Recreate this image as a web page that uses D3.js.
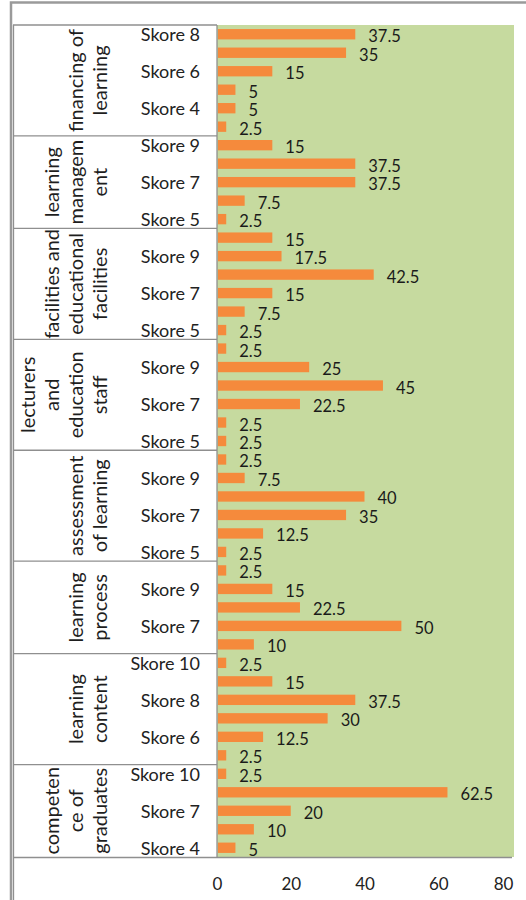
<!DOCTYPE html>
<html><head><meta charset="utf-8">
<script src="https://cdn.jsdelivr.net/npm/d3@7/dist/d3.min.js"></script>
<style>
html,body{margin:0;padding:0;background:#fff;}
svg{display:block;font-family:Lato,"Open Sans",sans-serif;}
</style></head>
<body>
<svg id="chart" width="526" height="900"></svg>
<script>
// ---- data (top to bottom as displayed) ----
const groupNames = ["financing of learning","learning management","facilities and educational facilities","lecturers and education staff","assessment of learning","learning process","learning content","competence of graduates"];
const groupLines = [["financing of","learning"],["learning","managem","ent"],["facilities and","educational","facilities"],["lecturers","and","education","staff"],["assessment","of learning"],["learning","process"],["learning","content"],["competen","ce of","graduates"]];
const scores1 = ["Skore 8","Skore 7","Skore 6","Skore 5","Skore 4","Skore 3"];
const values1 = [37.5,35,15,5,5,2.5];
const scores2 = ["Skore 9","Skore 8","Skore 7","Skore 6","Skore 5"];
const values2 = [15,37.5,37.5,7.5,2.5];
const scores3 = ["Skore 10","Skore 9","Skore 8","Skore 7","Skore 6","Skore 5"];
const values3 = [15,17.5,42.5,15,7.5,2.5];
const scores4 = ["Skore 10","Skore 9","Skore 8","Skore 7","Skore 6","Skore 5"];
const values4 = [2.5,25,45,22.5,2.5,2.5];
const scores5 = ["Skore 10","Skore 9","Skore 8","Skore 7","Skore 6","Skore 5"];
const values5 = [2.5,7.5,40,35,12.5,2.5];
const scores6 = ["Skore 10","Skore 9","Skore 8","Skore 7","Skore 6"];
const values6 = [2.5,15,22.5,50,10];
const scores7 = ["Skore 10","Skore 9","Skore 8","Skore 7","Skore 6","Skore 5"];
const values7 = [2.5,15,37.5,30,12.5,2.5];
const scores8 = ["Skore 10","Skore 8","Skore 7","Skore 6","Skore 4"];
const values8 = [2.5,62.5,20,10,5];
const xTicks = [0,20,40,60,80];

const scoreLists = [scores1,scores2,scores3,scores4,scores5,scores6,scores7,scores8];
const valueLists = [values1,values2,values3,values4,values5,values6,values7,values8];

// flatten rows
const rows = [];
scoreLists.forEach((sl,g)=>sl.forEach((s,k)=>rows.push({id:g+"|"+k, group:g, score:s, value:valueLists[g][k]})));
const N = rows.length;

const svg = d3.select("#chart");
const x = d3.scaleLinear().domain([0,80]).range([217,512]);
const y = d3.scaleBand().domain(rows.map(r=>r.id)).range([25,857]).paddingInner(0.44).paddingOuter(0.22);
const step = y.step();
const top0 = 25;

// plot background
svg.append("rect").attr("x",x(0)).attr("y",top0).attr("width",514-x(0)).attr("height",857-top0).attr("fill","#c6da9f");

// frame
svg.append("path").attr("d","M11,900V2.5H526").attr("fill","none").attr("stroke","#9a9a9a").attr("stroke-width",2.5);

// group boundaries
const bounds = [];
let idx = 0;
scoreLists.forEach((sl,g)=>{bounds.push({g, start:idx, end:idx+sl.length}); idx+=sl.length;});
const yEdge = i => top0 + i*step;
const lineCol = "#8f8f8f";
bounds.forEach(b=>{
  svg.append("line").attr("x1",13).attr("x2",x(0)).attr("y1",yEdge(b.start)).attr("y2",yEdge(b.start)).attr("stroke",lineCol).attr("stroke-width",1.3);
});
svg.append("line").attr("x1",13).attr("x2",512).attr("y1",857.5).attr("y2",857.5).attr("stroke",lineCol).attr("stroke-width",1.3);
svg.append("line").attr("x1",13.5).attr("x2",13.5).attr("y1",top0).attr("y2",900).attr("stroke",lineCol).attr("stroke-width",1.3);
svg.append("line").attr("x1",x(0)).attr("x2",x(0)).attr("y1",top0).attr("y2",857.5).attr("stroke",lineCol).attr("stroke-width",1.3);

// group labels (rotated)
bounds.forEach(b=>{
  const cy = (yEdge(b.start)+yEdge(b.end))/2;
  const lines = groupLines[b.g];
  const n = lines.length;
  lines.forEach((t,k)=>{
    const cx = 99 - (n-1-k)*24;
    svg.append("text").attr("transform",`translate(${cx},${cy}) rotate(-90)`)
      .attr("text-anchor","middle").attr("dominant-baseline","central")
      .attr("font-size",20).attr("fill","#1e1e1e").text(t);
  });
});

// bars
svg.append("g").selectAll("rect").data(rows).join("rect")
  .attr("x",x(0)+1).attr("y",d=>y(d.id)).attr("height",y.bandwidth())
  .attr("width",d=>x(d.value)-x(0)-1).attr("fill","#f58a3c");

// category labels (every other, from bottom)
svg.append("g").selectAll("text").data(rows.filter((r,i)=>(N-1-i)%2===0)).join("text")
  .attr("x",200).attr("y",d=>y(d.id)+y.bandwidth()/2).attr("text-anchor","end")
  .attr("dominant-baseline","central").attr("font-size",18).attr("fill","#222").text(d=>d.score);

// value labels
svg.append("g").selectAll("text").data(rows).join("text")
  .attr("x",d=>x(d.value)+13).attr("y",d=>y(d.id)+y.bandwidth()/2+2)
  .attr("dominant-baseline","central").attr("font-size",16.5).attr("fill","#1a1a1a")
  .text(d=>d3.format("")(d.value));

// x axis
const ax = svg.append("g").attr("transform","translate(0,857.5)")
  .call(d3.axisBottom(x).tickValues(xTicks).tickSize(0).tickPadding(20).tickFormat(d3.format("d")));
ax.select(".domain").remove();
ax.selectAll("text").attr("font-size",17).attr("font-family","Lato,sans-serif").attr("fill","#222");
ax.selectAll(".tick:last-of-type text").attr("dx",-9);
</script>
</body></html>
